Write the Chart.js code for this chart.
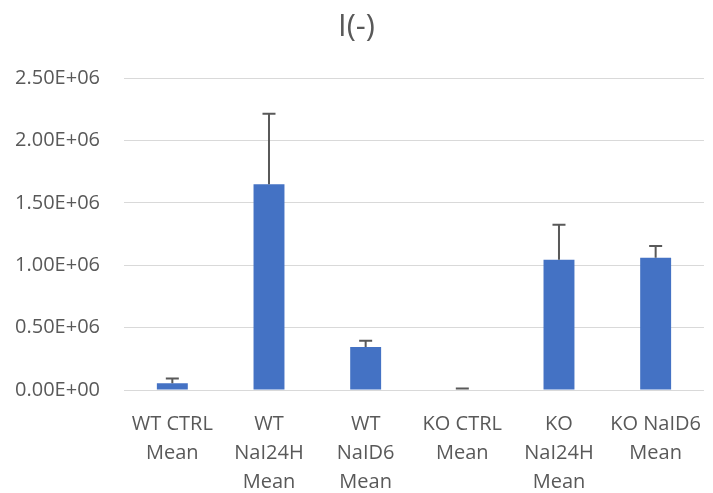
<!DOCTYPE html>
<html>
<head>
<meta charset="utf-8">
<script src="https://cdn.jsdelivr.net/npm/chart.js@4.4.1/dist/chart.umd.min.js"></script>
<style>
  html, body { margin: 0; padding: 0; background: #fff; }
  #wrap { width: 713px; height: 493px; }
</style>
</head>
<body>
<div id="wrap"><canvas id="c"></canvas></div>
<script>
var categories = [
  ['WT CTRL', 'Mean'],
  ['WT', 'NaI24H', 'Mean'],
  ['WT', 'NaID6', 'Mean'],
  ['KO CTRL', 'Mean'],
  ['KO', 'NaI24H', 'Mean'],
  ['KO NaID6', 'Mean']
];
var means = [55000, 1650000, 345000, 4000, 1045000, 1060000];
var errors = [38000, 565000, 50000, 9000, 280000, 95000];
var yTicks = [0, 500000, 1000000, 1500000, 2000000, 2500000];

// Excel style: every tick shown as x.xxE+06, zero as 0.00E+00
function sci(v) {
  if (v === 0) return '0.00E+00';
  return (v / 1e6).toFixed(2) + 'E+06';
}

var errorBars = {
  id: 'errorBars',
  afterDatasetsDraw: function(chart) {
    var ctx = chart.ctx;
    var meta = chart.getDatasetMeta(0);
    var y = chart.scales.y;
    ctx.save();
    ctx.strokeStyle = '#595959';
    ctx.lineWidth = 2;
    for (var i = 0; i < meta.data.length; i++) {
      var bar = meta.data[i];
      var top = y.getPixelForValue(means[i] + errors[i]);
      var base = y.getPixelForValue(means[i]);
      ctx.beginPath();
      ctx.moveTo(bar.x, base);
      ctx.lineTo(bar.x, top);
      ctx.moveTo(bar.x - 6.5, top);
      ctx.lineTo(bar.x + 6.5, top);
      ctx.stroke();
    }
    ctx.restore();
  }
};

var font = "'Open Sans', 'Liberation Sans', sans-serif";

new Chart(document.getElementById('c'), {
  type: 'bar',
  data: {
    labels: categories,
    datasets: [{
      data: means,
      backgroundColor: '#4472C4',
      barPercentage: 0.32,
      categoryPercentage: 1.0
    }]
  },
  options: {
    responsive: true,
    maintainAspectRatio: false,
    animation: false,
    layout: { padding: { top: 0, right: 0, bottom: 0, left: 0 } },
    plugins: {
      legend: { display: false },
      tooltip: { enabled: false },
      title: {
        display: true,
        text: 'I(-)',
        color: '#595959',
        font: { family: font, size: 31, weight: 'normal' },
        padding: { top: 9, bottom: 32 }
      }
    },
    scales: {
      x: {
        grid: { display: false },
        border: { display: false },
        ticks: {
          color: '#595959',
          font: { family: font, size: 20, lineHeight: 1.45 },
          padding: 12,
          maxRotation: 0,
          autoSkip: false
        },
        afterFit: function(scale) { scale.height = 103; }
      },
      y: {
        min: 0,
        max: 2500000,
        afterBuildTicks: function(scale) {
          scale.ticks = yTicks.map(function(v) { return { value: v }; });
        },
        grid: { color: '#D9D9D9', lineWidth: 1, drawTicks: false },
        border: { display: false },
        ticks: {
          color: '#595959',
          font: { family: font, size: 20 },
          padding: 24,
          callback: function(v) { return sci(v); }
        },
        afterFit: function(scale) { scale.width = 124; }
      }
    }
  },
  plugins: [errorBars]
});
</script>
</body>
</html>
